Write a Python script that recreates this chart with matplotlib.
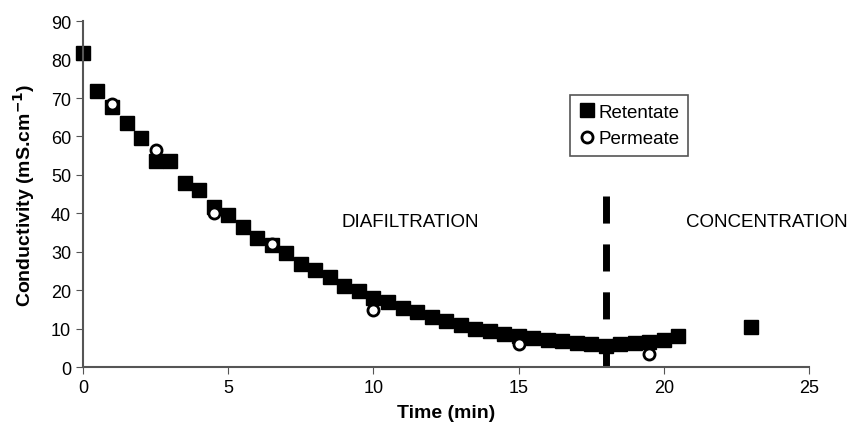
import matplotlib
matplotlib.use("Agg")
import matplotlib.pyplot as plt

plt.rcParams['font.family'] = ['Liberation Sans', 'DejaVu Sans']

# retentate conductivity (mS/cm) vs time (min)
ret_time = [0, 0.5, 1, 1.5, 2, 2.5, 3, 3.5, 4, 4.5, 5, 5.5, 6, 6.5, 7, 7.5,
            8, 8.5, 9, 9.5, 10, 10.5, 11, 11.5, 12, 12.5, 13, 13.5, 14, 14.5,
            15, 15.5, 16, 16.5, 17, 17.5, 18, 18.5, 19, 19.5, 20, 20.5, 23]
ret_cond = [81.7, 71.8, 67.6, 63.5, 59.6, 53.6, 53.6, 47.9, 46.0, 41.6, 39.5,
            36.4, 33.6, 31.7, 29.7, 26.8, 25.2, 23.4, 21.0, 19.8, 18.0, 16.9,
            15.3, 14.3, 13.0, 12.0, 10.9, 9.9, 9.4, 8.6, 8.0, 7.5, 7.0, 6.8,
            6.2, 6.0, 5.5, 6.0, 6.2, 6.5, 7.0, 8.0, 10.4]

# permeate
perm_time = [1, 2.5, 4.5, 6.5, 10, 15, 19.5]
perm_cond = [68.5, 56.5, 40.0, 32.0, 14.8, 6.0, 3.5]

switch_time = 18.0
switch_top = 44.5

fig = plt.figure(figsize=(8.5, 4.27), dpi=100)
ax = fig.add_axes([0.0976, 0.138, 0.8544, 0.81])

# drawn top-down so the pattern starts with a dash at the top
ax.plot([switch_time, switch_time], [switch_top, 0], color='black',
        linewidth=5, dashes=(3.9, 3.0), solid_capstyle='butt',
        dash_capstyle='butt', zorder=1)
ax.plot(ret_time, ret_cond, linestyle='none', marker='s', markersize=10,
        color='black', label='Retentate', zorder=2, clip_on=False)
ax.plot(perm_time, perm_cond, linestyle='none', marker='o', markersize=8,
        markerfacecolor='white', markeredgecolor='black', markeredgewidth=2,
        label='Permeate', zorder=3, clip_on=False)

ax.text(8.9, 38, 'DIAFILTRATION', fontsize=13.5, va='center')
ax.text(20.75, 38, 'CONCENTRATION', fontsize=13.5, va='center', clip_on=False)

ax.set_xlim(0, 25)
ax.set_ylim(0, 90)
ax.set_xticks(range(0, 26, 5))
ax.set_yticks(range(0, 91, 10))
ax.tick_params(labelsize=13, direction='out', length=5, color='#555555')
for s in ['top', 'right']:
    ax.spines[s].set_visible(False)
for s in ['left', 'bottom']:
    ax.spines[s].set_color('#555555')
    ax.spines[s].set_linewidth(1.5)

ax.set_xlabel('Time (min)', fontsize=14, fontweight='bold', labelpad=6)
ax.set_ylabel('Conductivity (mS.cm$^{\\mathbf{-1}}$)', fontsize=14,
              fontweight='bold', labelpad=10)

leg = ax.legend(loc='upper left', bbox_to_anchor=(0.67, 0.786), fontsize=13.5,
                fancybox=False, framealpha=1, edgecolor='#555555',
                handletextpad=0.1, handlelength=1.0, borderpad=0.45,
                labelspacing=0.5, borderaxespad=0)
leg.get_frame().set_linewidth(1.2)

fig.savefig('out.png', dpi=100)
